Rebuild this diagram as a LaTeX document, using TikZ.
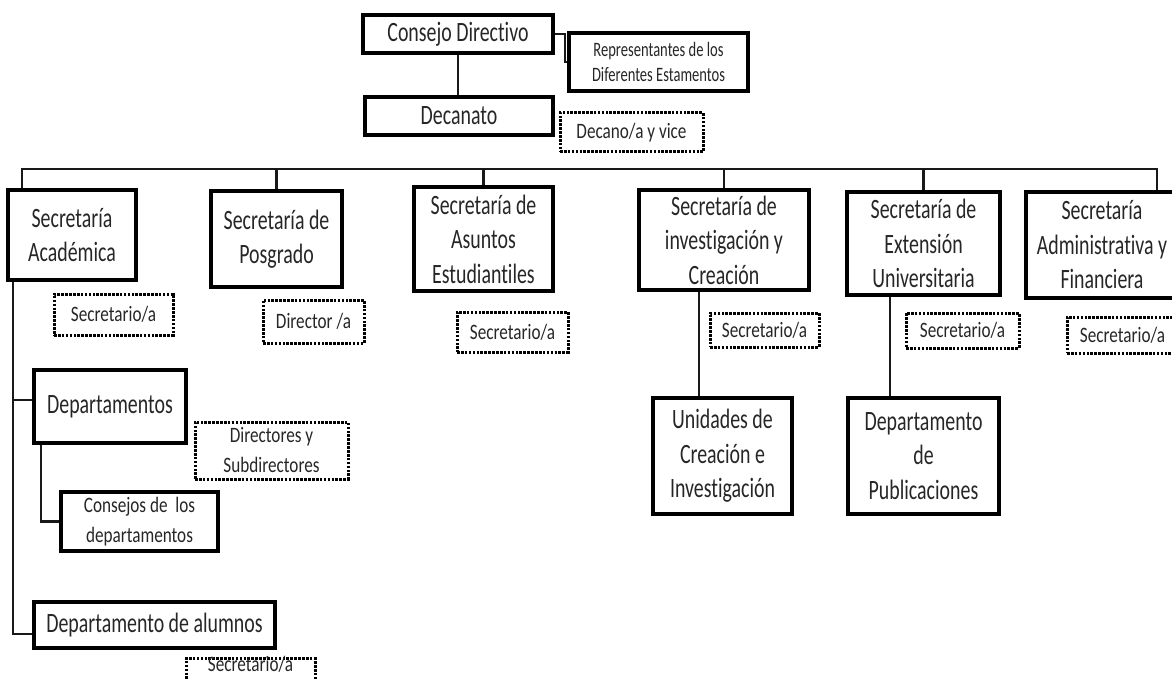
\documentclass[tikz,border=0pt]{standalone}
\usepackage{fontspec}
\setmainfont[FakeStretch=0.71,Ligatures=NoCommon]{Carlito}
\newfontfamily\dotfam[FakeStretch=0.78,Ligatures=NoCommon]{Carlito}
\newcommand\fmain{\fontsize{28}{34.5}\selectfont}
\newcommand\frep{\fontsize{20.5}{25.7}\selectfont}
\newcommand\fdot{\dotfam\fontsize{22}{30}\selectfont}
\begin{document}
\begin{tikzpicture}[x=1pt,y=-1pt,
  box/.style={draw, line width=3.5pt, inner sep=0pt, align=center, font=\fmain, text=black!85},
  dbox/.style={draw, line width=3pt, dash pattern=on 2.6pt off 1.3pt, inner sep=0pt, align=center, font=\fdot, text=black!85},
  conn/.style={line width=2.2pt, black!90}]
\useasboundingbox (0,0) rectangle (1172,679);
\clip (0,0) rectangle (1172,679);
% top
\node[box, minimum width=190pt, minimum height=38pt] (cd) at (458,34) {Consejo Directivo};
\node[box, font=\frep, minimum width=179pt, minimum height=58pt] (rep) at (658.5,62) {Representantes de los\\Diferentes Estamentos};
\node[box, minimum width=188pt, minimum height=38pt] (dec) at (459,116) {Decanato};
\node[dbox, minimum width=143pt, minimum height=39pt] (decv) at (631.5,132.5) {Decano/a y vice};
% secretarias
\node[box, minimum width=128pt, minimum height=90pt] (acad) at (72,235) {Secretaría\\Académica};
\node[box, minimum width=131pt, minimum height=96pt] (pos) at (276.5,239) {Secretaría de\\Posgrado};
\node[box, minimum width=139pt, minimum height=104pt] (asu) at (483.5,239) {Secretaría de\\Asuntos\\Estudiantiles};
\node[box, minimum width=170pt, minimum height=100pt] (inv) at (724,240) {Secretaría de\\investigación y\\Creación};
\node[box, minimum width=153pt, minimum height=103pt] (ext) at (923.5,243.5) {Secretaría de\\Extensión\\Universitaria};
\node[box, minimum width=152pt, minimum height=106pt] (adm) at (1102,245) {Secretaría\\Administrativa y\\Financiera};
% dotted labels
\node[dbox, minimum width=119pt, minimum height=41pt] (s1) at (113.5,314.5) {Secretario/a};
\node[dbox, minimum width=101pt, minimum height=43pt] (s2) at (313.5,321.5) {Director /a};
\node[dbox, minimum width=111pt, minimum height=40pt] (s3) at (512.5,332) {Secretario/a};
\node[dbox, minimum width=109pt, minimum height=34pt] (s4) at (764.5,330) {Secretario/a};
\node[dbox, minimum width=113pt, minimum height=35pt] (s5) at (962.5,330.5) {Secretario/a};
\node[dbox, minimum width=111pt, minimum height=36pt] (s6) at (1122.5,335) {Secretario/a};
% lower
\node[box, minimum width=152pt, minimum height=73pt] (dep) at (110,406.5) {Departamentos};
\node[dbox, minimum width=153pt, minimum height=57pt] (dirs) at (271.5,450.5) {Directores y\\Subdirectores};
\node[box, font=\fdot, minimum width=157pt, minimum height=59pt] (cons) at (139.5,521.5) {Consejos de~ los\\departamentos};
\node[box, minimum width=241pt, minimum height=46pt] (alum) at (154.5,625) {Departamento de alumnos};
\node[dbox, minimum width=129pt, minimum height=40pt, anchor=north] (s7) at (250.5,657) {};
\node[font=\fdot, text=black!85, inner sep=0pt, anchor=north] (s7t) at ([yshift=1pt]s7.north) {Secretario/a};
\node[box, minimum width=139pt, minimum height=116pt] (uni) at (722.5,456) {Unidades de\\Creación e\\Investigación};
\node[box, minimum width=151pt, minimum height=116pt] (pub) at (923.5,456) {Departamento\\de\\Publicaciones};
% connectors
\coordinate (bus) at (0,169);
\draw[conn] (cd.south) -- (cd.south |- dec.north);
\draw[conn] (cd.east) -- ++(10,0) |- (rep.west);
\path ([xshift=16pt]acad.north west) coordinate (a1);
\path ([xshift=-23pt]adm.north east) coordinate (a6);
\draw[conn] (a1) -- (a1 |- bus) -- (a6 |- bus) -- (a6);
\foreach \n in {pos,asu,inv,ext} \draw[conn] (\n.north) -- (\n.north |- bus);
\path ([xshift=7pt]acad.south west) coordinate (l1);
\draw[conn] (l1) |- ([yshift=6.5pt]dep.west);
\draw[conn] (l1) |- ([yshift=-9pt]alum.west);
\draw[conn] ([xshift=9pt]dep.south west) |- (cons.west);
\path ([xshift=48pt]uni.north west) coordinate (u1);
\draw[conn] (u1) -- (u1 |- inv.south);
\path ([xshift=44pt]pub.north west) coordinate (p1);
\draw[conn] (p1) -- (p1 |- ext.south);
\end{tikzpicture}
\end{document}
